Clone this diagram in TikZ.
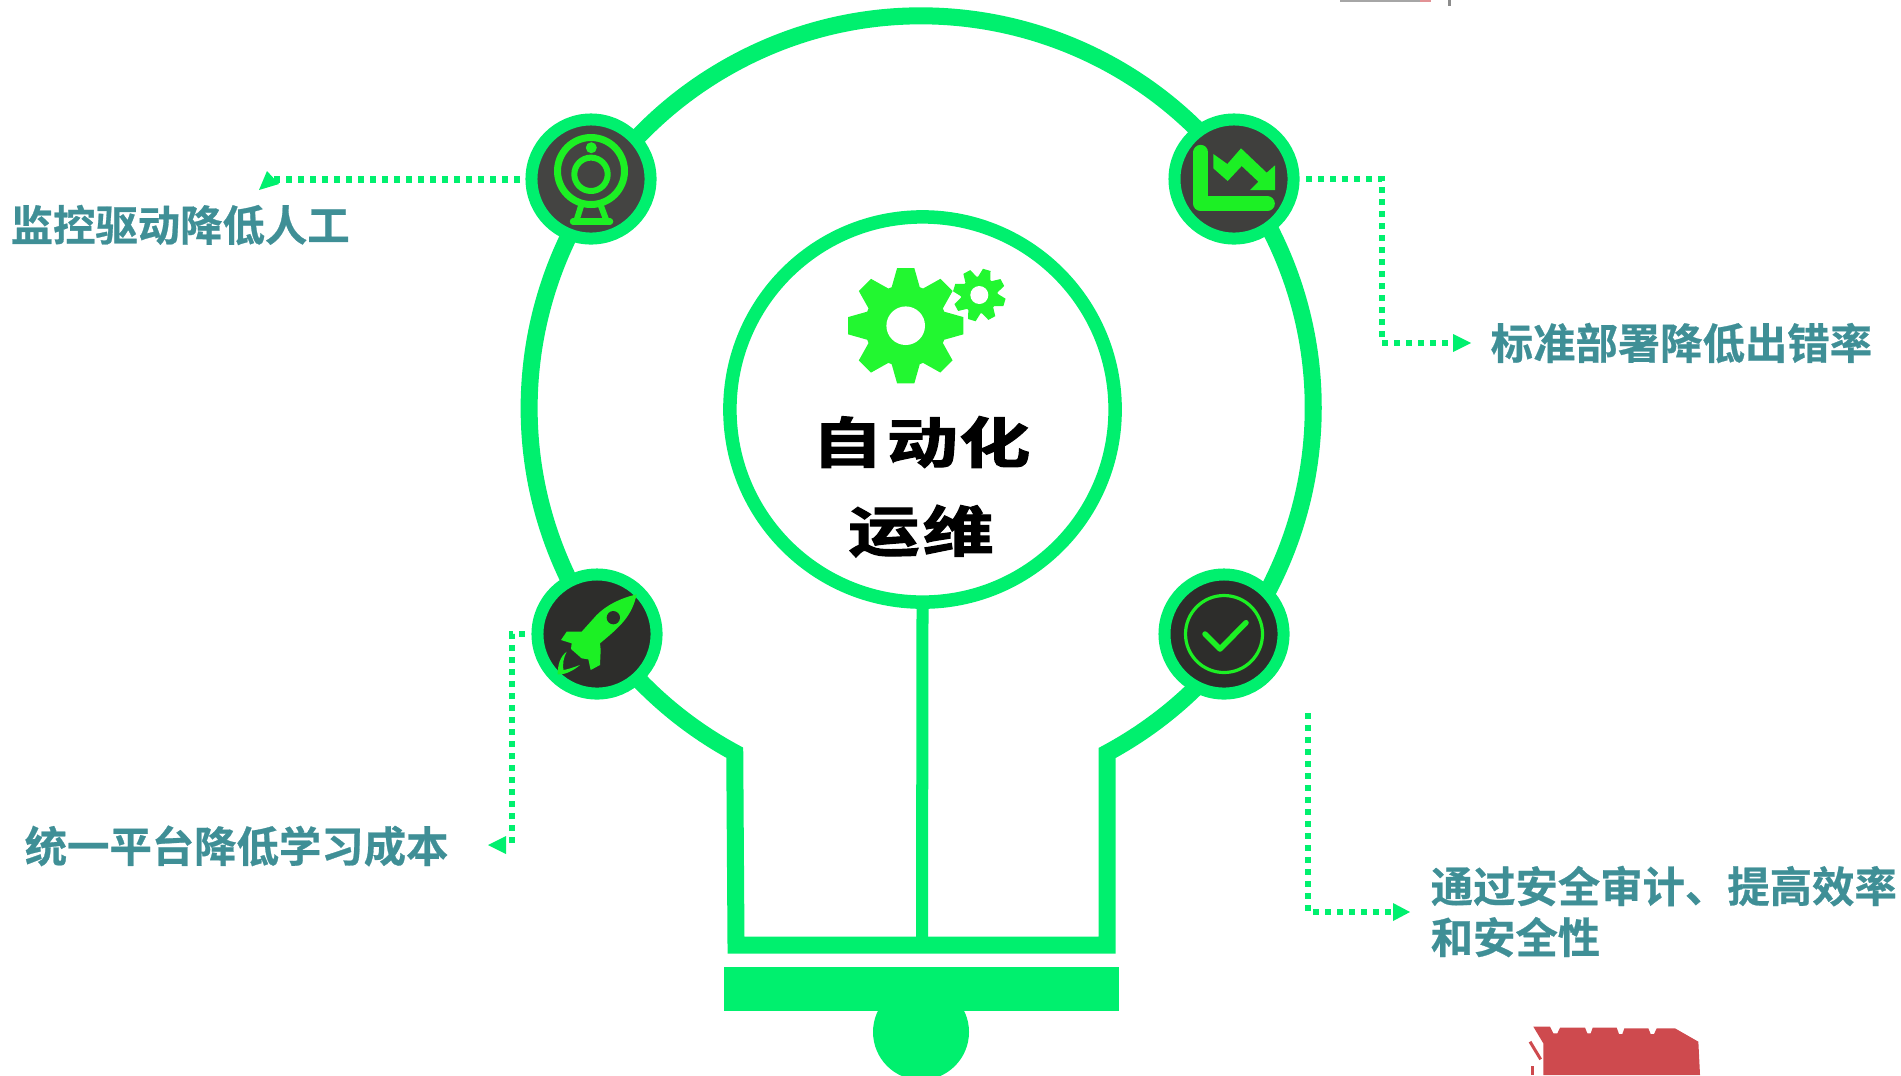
\documentclass[tikz,border=0pt]{standalone}
\usepackage{fontspec}
\setmainfont{Noto Sans CJK SC}[BoldFont={* Bold},BoldFeatures={FakeBold=0.6}]
\newfontfamily\cjkfat{Noto Sans CJK SC}[UprightFont={* Bold},FakeBold=2.2]
\usetikzlibrary{calc}
\definecolor{bulbgreen}{RGB}{0,240,110}
\definecolor{icongreen}{RGB}{28,240,36}
\definecolor{gearfill}{RGB}{34,247,48}
\definecolor{labelteal}{RGB}{63,143,150}
\definecolor{scrapred}{RGB}{206,74,78}
\definecolor{camdark}{RGB}{68,68,66}
\definecolor{chartdark}{RGB}{63,63,61}
\definecolor{rocketdark}{RGB}{45,45,43}
% one unit is one pixel of the reference, y runs down
\def\gearat(#1)(#2:#3:#4:#5){
	\fill[gearfill] ($(#1)+(#2-8.5:#3)$) \foreach \a in {0,45,...,315} {
		-- ($(#1)+(#2+\a-8.5:#3)$) -- ($(#1)+(#2+\a+8.5:#3)$)
		-- ($(#1)+(#2+\a+20:#4)$) -- ($(#1)+(#2+\a+25:#4)$)
	} -- cycle;
	\fill[white] (#1) circle (#5);
}
\tikzset{
	iconring/.style={circle,draw=bulbgreen,line width=1.2mm,minimum size=1.19cm,inner sep=0pt},
	bulbline/.style={draw=bulbgreen,line width=1.7mm},
	dotline/.style={draw=bulbgreen,line width=0.63mm,dash pattern=on 0.6mm off 0.6mm},
	dottip/.style={fill=bulbgreen},
	labeltext/.style={text=labelteal,font=\fontsize{12.05pt}{14.5pt}\selectfont\bfseries,inner sep=0pt,align=left},
	bigword/.style={text=black,font=\fontsize{15.5pt}{18pt}\selectfont\cjkfat,xscale=1.3,transform shape,inner sep=0pt},
	glyph/.style={draw=icongreen,line cap=round,line join=round}
}

\begin{document}
\begin{tikzpicture}[x=0.01cm,y=-0.01cm]
	\useasboundingbox (0,0) rectangle (1901,1075);
	\clip (0,0) rectangle (1901,1075);

	%%%%% SCRAPS %%%%%

	\fill[black!35] (1340,0) rectangle (1420,2);
	\fill[scrapred!60] (1420,0) rectangle (1431,2);
	\fill[black!45] (1448,0) rectangle (1451,6);

	\begin{scope}[shift={(1480,1000)},scale=1/3]
		\fill[scrapred] (160,80) -- (210,80) -- (220,100) -- (232,100) -- (240,83) -- (315,83) -- (322,100) -- (332,100) -- (338,83) -- (410,83) -- (417,102) -- (427,102) -- (433,85) -- (505,85) -- (512,102) -- (522,102) -- (530,85) -- (585,85) -- (655,125) -- (660,225) -- (190,225) -- (190,130) -- cycle;
		\draw[scrapred,line width=0.3mm] (150,125) -- (182,178);
		\draw[scrapred,line width=0.3mm] (158,198) -- (158,225);
	\end{scope}

	%%%%% BULB %%%%%

	\draw[bulbline] (1107,753) arc (61.7:-241.6:392) -- (736,945) -- (1107,945) -- cycle;
	\fill[bulbgreen] (724,967) rectangle (1119,1011);
	\fill[bulbgreen] (921,1032) circle (48);

	\node[circle,draw=bulbgreen,line width=1.35mm,minimum size=3.85cm,inner sep=0pt] (hub) at (922.5,409.5) {};
	\coordinate (hubfoot) at (922,940);
	\draw[draw=bulbgreen,line width=1.2mm] (hub.south) -- (hubfoot);

	\gearat(905.7,325.7)(0:58.3:41:19.3)
	\gearat(979.3,295)(16.5:26.5:18.5:9)

	\node[bigword] (auto) at (921,442) {自\hspace{0.06em}动\hspace{0.02em}化};
	\node[bigword] (ops) at (921,531) {运\hspace{0.05em}维};

	%%%%% ICONS %%%%%

	\node[iconring,fill=camdark] (cam) at (591,179) {};
	\node[iconring,fill=chartdark] (chart) at (1234,179) {};
	\node[iconring,fill=rocketdark] (rocket) at (597,634) {};
	\node[iconring,fill=rocketdark] (check) at (1224,634) {};

	% webcam
	\draw[glyph,line width=0.7mm] (591,171) circle (33.5);
	\fill[icongreen] (591.3,147.7) circle (5.5);
	\draw[glyph,line width=0.6mm] (591,174.3) circle (16.7);
	\draw[glyph,line width=0.6mm] (581,206) -- (576,222);
	\draw[glyph,line width=0.6mm] (601,206) -- (607,222);
	\draw[glyph,line width=0.65mm] (573,221.5) -- (610,221.5);

	% chart
	\begin{scope}[shift={(1150,90)},scale=1/3]
		\draw[glyph,line width=1.5mm] (152.5,187) -- (152.5,341) -- (352,341);
		\fill[icongreen] (190,192) -- (232,222) -- (273,175) -- (350,248) -- (375,226) -- (375,300) -- (300,300) -- (325,275) -- (275,228) -- (233,273) -- (190,235) -- cycle;
	\end{scope}

	% rocket
	\begin{scope}[shift={(510,550)},scale=1/3]
		\fill[icongreen] (380,133) .. controls (330,145) and (290,165) .. (260,195) -- (215,245) -- (170,245) -- (153,270) -- (185,280) -- (183,297) -- (215,325) -- (235,328) -- (242,360) -- (270,345) -- (272,300) -- (270,280) .. controls (330,230) and (365,200) .. (380,133) -- cycle;
		\fill[rocketdark] (310,203) circle (20);
		\fill[icongreen] (170,305) .. controls (150,320) and (143,345) .. (143,373) .. controls (165,375) and (190,362) .. (210,345) .. controls (190,352) and (175,358) .. (160,360) .. controls (158,340) and (160,325) .. (170,305) -- cycle;
	\end{scope}

	% check
	\draw[glyph,line width=0.32mm] (1224,634) circle (38.5);
	\begin{scope}[shift={(1140,550)},scale=1/3]
		\draw[glyph,line width=0.55mm] (195,252) -- (240,297) -- (318,218);
	\end{scope}

	%%%%% LABELS %%%%%

	\node[labeltext,anchor=west] (camtext) at (10,225) {监控驱动降低人工};
	\node[labeltext,anchor=west] (charttext) at (1490,343) {标准部署降低出错率};
	\node[labeltext,anchor=west] (rockettext) at (24,846) {统一平台降低学习成本};
	\node[labeltext,anchor=west] (checktext) at (1430,911.5) {通过安全审计、提高效率\\和安全性};

	%%%%% CONNECTORS %%%%%

	\coordinate (camout) at (520,179.5);
	\coordinate (camend) at (274,179.5);
	\draw[dotline] (camout) -- (camend);
	\fill[dottip] (267,171) -- (279,184) -- (259,190) -- cycle;

	\coordinate (chartout) at (1306,179);
	\coordinate (chartbend) at (1382,179);
	\coordinate (chartdown) at (1382,343);
	\coordinate (chartend) at (1453,343);
	\draw[dotline] (chartout) -- (chartbend) -- (chartdown) -- (chartend);
	\fill[dottip] (1453,334) -- (1471,343) -- (1453,352) -- cycle;

	\coordinate (rocketout) at (525,634);
	\coordinate (rocketbend) at (512,634);
	\coordinate (rocketdown) at (512,843);
	\draw[dotline] (rocketout) -- (rocketbend) -- (rocketdown);
	\fill[dottip] (506,836) -- (488,845) -- (506,854) -- cycle;

	\coordinate (checkout) at (1308,713);
	\coordinate (checkbend) at (1308,912);
	\coordinate (checkend) at (1393,912);
	\draw[dotline] (checkout) -- (checkbend) -- (checkend);
	\fill[dottip] (1393,903) -- (1410,912) -- (1393,921) -- cycle;
\end{tikzpicture}
\end{document}
